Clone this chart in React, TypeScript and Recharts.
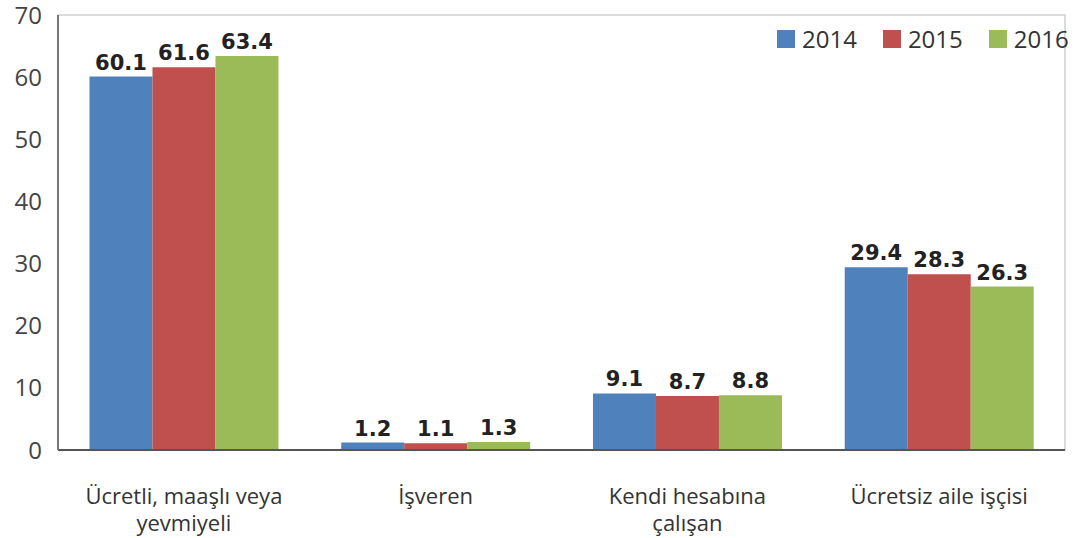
import { Bar, BarChart, LabelList, ReferenceArea, XAxis, YAxis } from "recharts"

const categories = [
  ["Ücretli, maaşlı veya", "yevmiyeli"],
  ["İşveren"],
  ["Kendi hesabına", "çalışan"],
  ["Ücretsiz aile işçisi"],
]
const years = ["2014", "2015", "2016"]
const values2014 = [60.1, 1.2, 9.1, 29.4]
const values2015 = [61.6, 1.1, 8.7, 28.3]
const values2016 = [63.4, 1.3, 8.8, 26.3]
const yTicks = [0, 10, 20, 30, 40, 50, 60, 70]

const colors = ["#4F81BD", "#C0504D", "#9BBB59"]

const data = categories.map((lines, i) => ({
  name: lines.join("\n"),
  y2014: values2014[i],
  y2015: values2015[i],
  y2016: values2016[i],
}))

const font = "'Open Sans', sans-serif"

function CategoryTick({ x, y, payload }: any) {
  const lines = String(payload.value).split("\n")
  return (
    <g transform={`translate(${x},${y})`}>
      {lines.map((line, i) => (
        <text
          key={i}
          x={0}
          y={46 + i * 27}
          textAnchor="middle"
          fill="#333"
          fontSize={22}
          fontFamily={font}
        >
          {line}
        </text>
      ))}
    </g>
  )
}

const labelStyle = { fontSize: 21, fontWeight: 700, fontFamily: "'DejaVu Sans', sans-serif", fill: "#222" }

// legend sits inside the plot, top right, without taking space from it
function YearLegend() {
  return (
    <div
      style={{
        position: "absolute",
        left: 777,
        top: 25,
        display: "flex",
        gap: 26,
        fontFamily: font,
        fontSize: 24,
        color: "#333",
        lineHeight: "28px",
      }}
    >
      {years.map((year, i) => (
        <div key={year} style={{ display: "flex", alignItems: "center" }}>
          <span style={{ width: 18, height: 18, background: colors[i], marginRight: 7 }} />
          {year}
        </div>
      ))}
    </div>
  )
}

export default function App() {
  return (
    <div style={{ position: "absolute", left: 0, top: 0, width: 1083, height: 538, background: "#fff" }}>
      <BarChart
        width={1083}
        height={538}
        data={data}
        margin={{ top: 15, right: 18, left: 0, bottom: 0 }}
        barCategoryGap="12.5%"
        barGap={0}
      >
        <ReferenceArea y1={0} y2={70} fill="none" stroke="#d0d0d0" strokeWidth={1.5} />
        <XAxis
          dataKey="name"
          interval={0}
          height={88}
          tickLine={false}
          axisLine={{ stroke: "#555", strokeWidth: 2 }}
          tick={<CategoryTick />}
        />
        <YAxis
          domain={[0, 70]}
          ticks={yTicks}
          width={58}
          tickLine={false}
          tickMargin={10}
          axisLine={{ stroke: "#777", strokeWidth: 2 }}
          tick={{ fontSize: 24, fill: "#444", fontFamily: font }}
        />
        <Bar dataKey="y2014" name="2014" fill={colors[0]} isAnimationActive={false}>
          <LabelList dataKey="y2014" position="top" offset={7} style={labelStyle} />
        </Bar>
        <Bar dataKey="y2015" name="2015" fill={colors[1]} isAnimationActive={false}>
          <LabelList dataKey="y2015" position="top" offset={7} style={labelStyle} />
        </Bar>
        <Bar dataKey="y2016" name="2016" fill={colors[2]} isAnimationActive={false}>
          <LabelList dataKey="y2016" position="top" offset={7} style={labelStyle} />
        </Bar>
      </BarChart>
      <YearLegend />
    </div>
  )
}
